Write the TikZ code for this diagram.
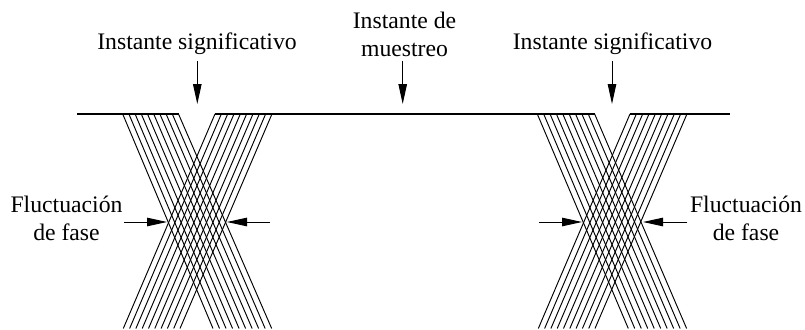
\documentclass[tikz,border=0pt]{standalone}
\usepackage{fontspec}
\setmainfont{Liberation Serif}
\usetikzlibrary{arrows.meta}
\tikzset{
  lbl/.style={inner sep=0pt,outer sep=0pt,align=center,font=\fontsize{23.7}{28.3}\selectfont},
  rail/.style={line width=1.7pt,line cap=butt},
  trace/.style={line width=0.95pt,line cap=butt},
  pointer/.style={line width=0.95pt,-{Triangle[length=20pt,width=8.5pt]}},
}
\begin{document}
\begin{tikzpicture}[x=1pt,y=-1pt]
\useasboundingbox (0,0) rectangle (805,329);
% labels
\node[lbl,anchor=base] (sigA) at (197,50) {Instante significativo};
\node[lbl,anchor=base] (sigB) at (612.5,50) {Instante significativo};
\node[lbl] (samp) at (404.5,34.5) {Instante de\\muestreo};
\node[lbl] (flucA) at (66.5,218.5) {Fluctuación\\de fase};
\node[lbl] (flucB) at (746,218.5) {Fluctuación\\de fase};
% rails
\coordinate (r1) at (77,114); \coordinate (r2) at (179,114);
\coordinate (r3) at (215,114); \coordinate (r4) at (595,114);
\coordinate (r5) at (630,114); \coordinate (r6) at (730,114);
\draw[rail] (r1) -- (r2);
\draw[rail] (r3) -- (r4);
\draw[rail] (r5) -- (r6);
% traces
\foreach \i in {0,...,9}{
  \coordinate (dt\i) at ({122.7+6.2*\i},114);
  \coordinate (db\i) at ({213+6.52*\i},328.5);
  \coordinate (at\i) at ({215+6.33*\i},114);
  \coordinate (ab\i) at ({123.3+6.3*\i},328.5);
  \draw[trace] (dt\i) -- (db\i);
  \draw[trace] (at\i) -- (ab\i);
  \coordinate (et\i) at ({537.3+6.37*\i},114);
  \coordinate (eb\i) at ({628.3+6.48*\i},328.5);
  \coordinate (ft\i) at ({630+6.33*\i},114);
  \coordinate (fb\i) at ({538.3+6.3*\i},328.5);
  \draw[trace] (et\i) -- (eb\i);
  \draw[trace] (ft\i) -- (fb\i);
}
% pointers
\coordinate (p1s) at (197.3,61); \coordinate (p1e) at (197.3,104);
\coordinate (p2s) at (402.7,61); \coordinate (p2e) at (402.7,104);
\coordinate (p3s) at (612,61); \coordinate (p3e) at (612,104);
\draw[pointer] (p1s) -- (p1e);
\draw[pointer] (p2s) -- (p2e);
\draw[pointer] (p3s) -- (p3e);
\coordinate (q1s) at (124,222); \coordinate (q1e) at (167,222);
\coordinate (q2s) at (270,222); \coordinate (q2e) at (227,222);
\coordinate (q3s) at (539,222); \coordinate (q3e) at (582,222);
\coordinate (q4s) at (687,222); \coordinate (q4e) at (643,222);
\draw[pointer] (q1s) -- (q1e);
\draw[pointer] (q2s) -- (q2e);
\draw[pointer] (q3s) -- (q3e);
\draw[pointer] (q4s) -- (q4e);
\end{tikzpicture}
\end{document}
